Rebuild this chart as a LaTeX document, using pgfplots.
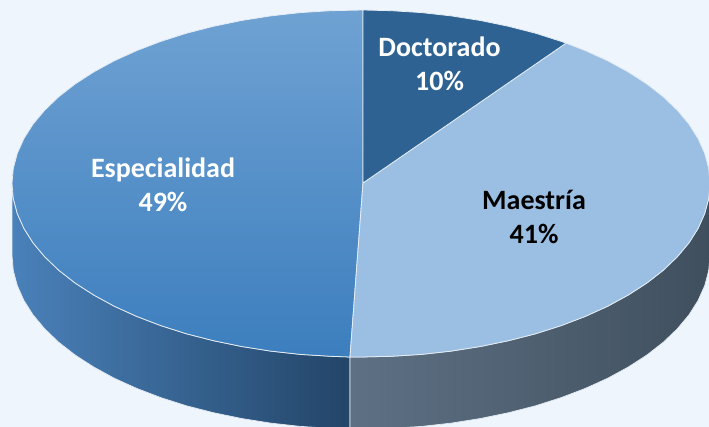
\documentclass[border=0pt]{standalone}
\usepackage{fontspec}
\setmainfont{Carlito}
\usepackage{pgfplots}
\pgfplotsset{compat=1.18}
\definecolor{bgc}{HTML}{EEF5FC}
\definecolor{edgec}{HTML}{E4ECF4}
\definecolor{espTop}{HTML}{6FA2D3}
\definecolor{espMid}{HTML}{508FCC}
\definecolor{espBot}{HTML}{3C7EBE}
\definecolor{docC}{HTML}{2E6292}
\definecolor{maeC}{HTML}{9ABFE3}
\definecolor{wallLa}{HTML}{4A81BA}
\definecolor{wallLb}{HTML}{234568}
\definecolor{wallRa}{HTML}{5E7184}
\definecolor{wallRb}{HTML}{3F4F5E}
\begin{document}
\begin{tikzpicture}
\begin{axis}[
    hide axis,
    scale only axis,
    width=709pt, height=427pt,
    xmin=0, xmax=709, ymin=0, ymax=427,
    y dir=reverse,
    no markers,
    line join=round,
]
% background
\addplot[fill=bgc, draw=none] coordinates {(0,0) (709,0) (709,427) (0,427)} -- cycle;

% side wall, left part
\addplot[left color=wallLa, right color=wallLb, draw=edgec, line width=0.7pt] coordinates {
    (12,183.5) (13.3,198.6) (17.3,213.6) (23.9,228.4) (33.0,242.8) (44.7,256.8)
    (58.8,270.3) (75.1,283.0) (93.7,295.0) (114.2,306.2) (136.7,316.4) (160.8,325.6)
    (186.5,333.8) (213.5,340.7) (241.6,346.5) (270.7,351.1) (300.4,354.4) (330.6,356.3)
    (350,357)
    (350,429) (330.6,428.3) (300.4,426.4) (270.7,423.1) (241.6,418.5) (213.5,412.7)
    (186.5,405.8) (160.8,397.6) (136.7,388.4) (114.2,378.2) (93.7,367.0) (75.1,355.0)
    (58.8,342.3) (44.7,328.8) (33.0,314.8) (23.9,300.4) (17.3,285.6) (13.3,270.6) (12,255.5)
} -- cycle;

% side wall, right part
\addplot[left color=wallRa, middle color=wallRb, right color=wallRb, draw=edgec, line width=0.7pt] coordinates {
    (350,357) (361,357) (391.4,356.3) (421.6,354.4) (451.3,351.1) (480.4,346.5)
    (508.5,340.7) (535.5,333.8) (561.2,325.6) (585.3,316.4) (607.8,306.2) (628.3,295.0)
    (646.9,283.0) (663.2,270.3) (677.3,256.8) (689.0,242.8) (698.1,228.4) (704.7,213.6)
    (708.7,198.6) (710,183.5)
    (710,255.5) (708.7,270.6) (704.7,285.6) (698.1,300.4) (689.0,314.8) (677.3,328.8)
    (663.2,342.3) (646.9,355.0) (628.3,367.0) (607.8,378.2) (585.3,388.4) (561.2,397.6)
    (535.5,405.8) (508.5,412.7) (480.4,418.5) (451.3,423.1) (421.6,426.4) (391.4,428.3)
    (361,429) (350,429)
} -- cycle;

% Especialidad 49
\addplot[top color=espTop, middle color=espMid, bottom color=espBot, draw=edgec, line width=0.8pt] coordinates {
    (363,183) (363,10) (330.6,10.7) (300.4,12.6) (270.7,15.9) (241.6,20.5) (213.5,26.3)
    (186.5,33.2) (160.8,41.4) (136.7,50.6) (114.2,60.8) (93.7,72.0) (75.1,84.0)
    (58.8,96.7) (44.7,110.2) (33.0,124.2) (23.9,138.6) (17.3,153.4) (13.3,168.4) (12,183.5)
    (13.3,198.6) (17.3,213.6) (23.9,228.4) (33.0,242.8) (44.7,256.8) (58.8,270.3)
    (75.1,283.0) (93.7,295.0) (114.2,306.2) (136.7,316.4) (160.8,325.6) (186.5,333.8)
    (213.5,340.7) (241.6,346.5) (270.7,351.1) (300.4,354.4) (330.6,356.3) (350,357)
} -- cycle;

% Maestria 41
\addplot[fill=maeC, draw=edgec, line width=0.8pt] coordinates {
    (363,183) (566.1,43.1) (585.3,50.6) (607.8,60.8) (628.3,72.0) (646.9,84.0) (663.2,96.7)
    (677.3,110.2) (689.0,124.2) (698.1,138.6) (704.7,153.4) (708.7,168.4) (710,183.5)
    (708.7,198.6) (704.7,213.6) (698.1,228.4) (689.0,242.8) (677.3,256.8) (663.2,270.3)
    (646.9,283.0) (628.3,295.0) (607.8,306.2) (585.3,316.4) (561.2,325.6) (535.5,333.8)
    (508.5,340.7) (480.4,346.5) (451.3,351.1) (421.6,354.4) (391.4,356.3) (361,357) (350,357)
} -- cycle;

% Doctorado 10
\addplot[fill=docC, draw=edgec, line width=0.8pt] coordinates {
    (363,183) (363,10) (391.4,10.7) (421.6,12.6) (451.3,15.9) (480.4,20.5) (508.5,26.3)
    (535.5,33.2) (561.2,41.4) (566.1,43.1)
} -- cycle;

\node[text=white, font=\fontsize{28}{34}\selectfont\bfseries, align=center] at (axis cs:439.5,64) {Doctorado\\10\%};
\node[text=white, font=\fontsize{28}{34}\selectfont\bfseries, align=center] at (axis cs:163,185) {Especialidad\\49\%};
\node[text=black, font=\fontsize{28}{34}\selectfont\bfseries, align=center] at (axis cs:534,217) {Maestría\\41\%};
\end{axis}
\end{tikzpicture}
\end{document}
